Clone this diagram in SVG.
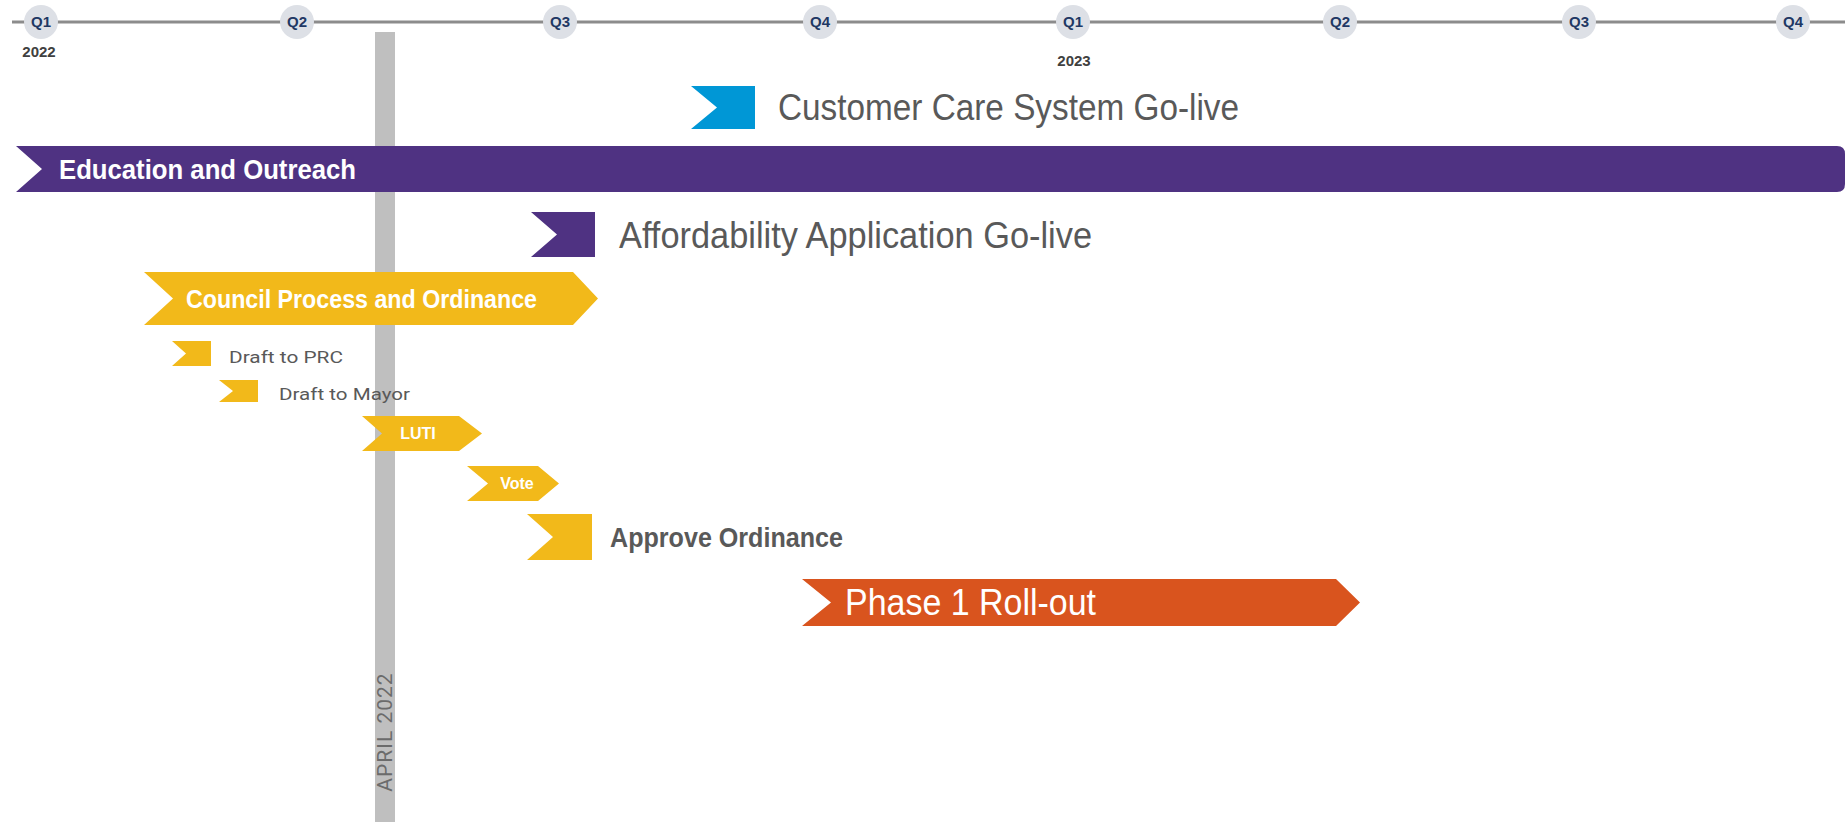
<svg xmlns="http://www.w3.org/2000/svg" width="1845" height="822" viewBox="0 0 1845 822">
<style>
.q{fill:#dde0e6}
.ql{font-family:"Liberation Sans Narrow","Liberation Sans",Arial,sans-serif;font-weight:bold;font-size:15px;fill:#1f3864;text-anchor:middle}
.yr{font-family:"Liberation Sans Narrow","Liberation Sans",Arial,sans-serif;font-weight:bold;font-size:15px;fill:#404040;text-anchor:middle}
.big{font-family:"Liberation Sans Narrow","Liberation Sans",Arial,sans-serif;fill:#595959}
.wt{font-family:"Liberation Sans Narrow","Liberation Sans",Arial,sans-serif;fill:#ffffff;font-weight:bold}
.wn{font-family:"Liberation Sans Narrow","Liberation Sans",Arial,sans-serif;fill:#ffffff;font-weight:normal}
.sm{font-family:Roboto,"Liberation Sans",Arial,sans-serif;fill:#595959;font-size:17px}
.yel{fill:#f2b91a}
.pur{fill:#4f3282}
</style>
<g id="timeline">
<line x1="12" y1="22" x2="1845" y2="22" stroke="#8c8c8c" stroke-width="3"/>
<circle class="q" cx="41" cy="22" r="17"/><text class="ql" x="41" y="27">Q1</text>
<circle class="q" cx="297" cy="22" r="17"/><text class="ql" x="297" y="27">Q2</text>
<circle class="q" cx="560" cy="22" r="17"/><text class="ql" x="560" y="27">Q3</text>
<circle class="q" cx="820" cy="22" r="17"/><text class="ql" x="820" y="27">Q4</text>
<circle class="q" cx="1073" cy="22" r="17"/><text class="ql" x="1073" y="27">Q1</text>
<circle class="q" cx="1340" cy="22" r="17"/><text class="ql" x="1340" y="27">Q2</text>
<circle class="q" cx="1579" cy="22" r="17"/><text class="ql" x="1579" y="27">Q3</text>
<circle class="q" cx="1793" cy="22" r="17"/><text class="ql" x="1793" y="27">Q4</text>
<text class="yr" x="39" y="57">2022</text>
<text class="yr" x="1074" y="66">2023</text>
</g>
<g id="april">
<rect x="375" y="32" width="20" height="790" fill="#bfbfbf"/>
<text transform="translate(392,732) rotate(-90)" text-anchor="middle" font-family="Roboto,'Liberation Sans',Arial,sans-serif" font-size="21" fill="#6b6b6b" letter-spacing="1">APRIL 2022</text>
</g>
<g id="customer-care">
<path d="M691 86 L755 86 L755 129 L691 129 L717 107.5 Z" fill="#0097d6"/>
<text class="big" x="778" y="120" font-size="37" textLength="461" lengthAdjust="spacingAndGlyphs">Customer Care System Go-live</text>
</g>
<g id="education">
<path class="pur" d="M16 146 L1837 146 Q1845 146 1845 154 L1845 184 Q1845 192 1837 192 L16 192 L42 169 Z"/>
<text class="wt" x="59" y="179" font-size="28" textLength="297" lengthAdjust="spacingAndGlyphs">Education and Outreach</text>
</g>
<g id="affordability">
<path class="pur" d="M531 212 L595 212 L595 257 L531 257 L557 234.5 Z"/>
<text class="big" x="619" y="248" font-size="37" textLength="473" lengthAdjust="spacingAndGlyphs">Affordability Application Go-live</text>
</g>
<g id="council">
<path class="yel" d="M144 272 L573 272 L598 298.5 L573 325 L144 325 L173 298.5 Z"/>
<text class="wt" x="186" y="308" font-size="26" textLength="351" lengthAdjust="spacingAndGlyphs">Council Process and Ordinance</text>
</g>
<g id="draft-prc">
<path class="yel" d="M172 341 L211 341 L211 366 L172 366 L186 353.5 Z"/>
<text class="sm" x="229" y="363" textLength="114" lengthAdjust="spacingAndGlyphs">Draft to PRC</text>
</g>
<g id="draft-mayor">
<path class="yel" d="M219 380 L258 380 L258 402 L219 402 L233 391 Z"/>
<text class="sm" x="279" y="400" textLength="131" lengthAdjust="spacingAndGlyphs">Draft to Mayor</text>
</g>
<g id="luti">
<path class="yel" d="M362 416 L459 416 L482 433.5 L459 451 L362 451 L382 433.5 Z"/>
<text class="wt" x="418" y="439" font-size="16" text-anchor="middle">LUTI</text>
</g>
<g id="vote">
<path class="yel" d="M467 466 L538 466 L559 483.5 L538 501 L467 501 L488 483.5 Z"/>
<text class="wt" x="517" y="489" font-size="16" text-anchor="middle">Vote</text>
</g>
<g id="approve">
<path class="yel" d="M527 514 L592 514 L592 560 L527 560 L553 537 Z"/>
<text class="big" x="610" y="547" font-size="27" font-weight="bold" textLength="233" lengthAdjust="spacingAndGlyphs">Approve Ordinance</text>
</g>
<g id="phase1">
<path d="M802 579 L1336 579 L1360 602.5 L1336 626 L802 626 L831 602.5 Z" fill="#d9541e"/>
<text class="wn" x="845" y="615" font-size="36" textLength="251" lengthAdjust="spacingAndGlyphs">Phase 1 Roll-out</text>
</g>
<g id="connectors"></g>
</svg>
